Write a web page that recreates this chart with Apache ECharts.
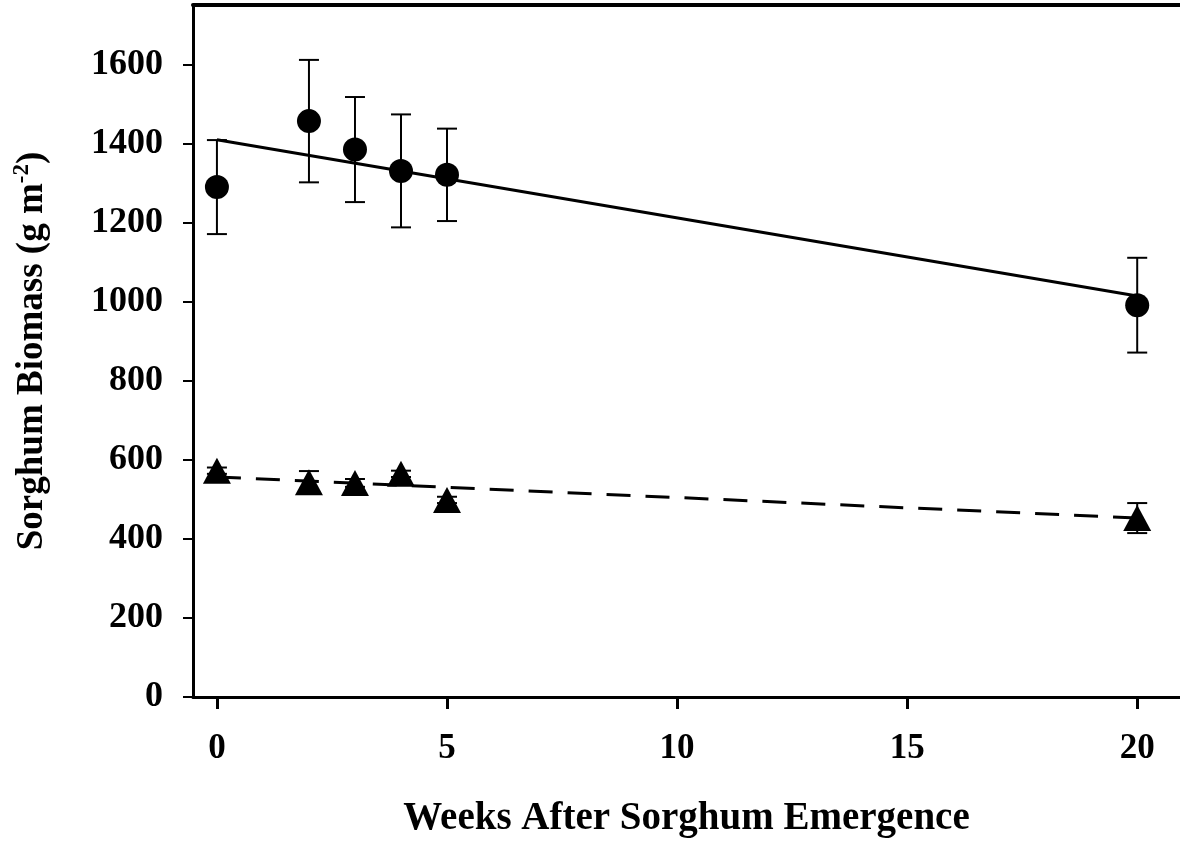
<!DOCTYPE html>
<html>
<head>
<meta charset="utf-8">
<script src="https://cdn.jsdelivr.net/npm/echarts@6/dist/echarts.min.js"></script>
<style>html,body{margin:0;padding:0;background:#fff}#c{width:1180px;height:842px}</style>
</head>
<body>
<div id="c"></div>
<script>
// ---- data ----
const weeks = [0, 2, 3, 4, 5, 20];
const biomassFull = [1291, 1458, 1386, 1332, 1322, 992];
const errFull = [119, 155, 133, 143, 117, 120];
const biomassLow = [573, 544, 542, 565, 499, 453];
const errLow = [8, 28, 10, 8, 8, 38];
const fitFullX = [0, 20];
const fitFullY = [1411, 1015];
const fitLowX = [0, 20];
const fitLowY = [557, 453];
const xTicks = [0, 5, 10, 15, 20];
const yTicks = [0, 200, 400, 600, 800, 1000, 1200, 1400, 1600];

const FONT = '"Liberation Serif", "Times New Roman", serif';
const pts = (xs, ys) => xs.map((x, i) => [x, ys[i]]);
const errData = (xs, ys, es) => xs.map((x, i) => [x, ys[i] - es[i], ys[i] + es[i]]);

function errRender(params, api) {
  const x = api.value(0);
  const lo = api.coord([x, api.value(1)]);
  const hi = api.coord([x, api.value(2)]);
  const cw = 10;
  const st = { stroke: '#000', lineWidth: 2 };
  return {
    type: 'group',
    children: [
      { type: 'line', shape: { x1: lo[0], y1: lo[1], x2: hi[0], y2: hi[1] }, style: st },
      { type: 'line', shape: { x1: lo[0] - cw, y1: lo[1], x2: lo[0] + cw, y2: lo[1] }, style: st },
      { type: 'line', shape: { x1: hi[0] - cw, y1: hi[1], x2: hi[0] + cw, y2: hi[1] }, style: st }
    ]
  };
}

const chart = echarts.init(document.getElementById('c'));
const XMIN = -0.52, XMAX = 20.93, YMAX = 1752;
const plain = v => String(v);
chart.setOption({
  animation: false,
  backgroundColor: '#fff',
  grid: { left: 193, top: 5, right: 0, bottom: 145, containLabel: false, outerBoundsMode: 'none' },
  xAxis: [{
    type: 'value', min: XMIN, max: XMAX, position: 'bottom',
    name: 'Weeks After Sorghum Emergence', nameLocation: 'middle', nameGap: 102,
    nameTextStyle: { fontFamily: FONT, fontWeight: 'bold', fontSize: 39, color: '#000' },
    axisLine: { onZero: false, lineStyle: { color: '#000', width: 3 } },
    axisTick: { show: true, length: 12, inside: false, customValues: xTicks, lineStyle: { color: '#000', width: 3 } },
    axisLabel: { customValues: xTicks, formatter: plain, margin: 34, fontFamily: FONT, fontWeight: 'bold', fontSize: 35, color: '#000' },
    splitLine: { show: false }
  }, {
    type: 'value', min: XMIN, max: XMAX, position: 'top',
    axisLine: { onZero: false, lineStyle: { color: '#000', width: 4 } },
    axisTick: { show: false }, axisLabel: { show: false }, splitLine: { show: false }
  }],
  yAxis: {
    type: 'value', min: 0, max: YMAX,
    name: 'Sorghum Biomass (g m{sup|-2})', nameLocation: 'middle', nameGap: 139, nameRotate: 90,
    nameTextStyle: {
      fontFamily: FONT, fontWeight: 'bold', fontSize: 37, color: '#000',
      rich: { sup: { fontFamily: FONT, fontWeight: 'bold', fontSize: 23, color: '#000', padding: [0, 0, 20, 0] } }
    },
    axisLine: { onZero: false, lineStyle: { color: '#000', width: 3 } },
    axisTick: { show: true, length: 10, customValues: yTicks, lineStyle: { color: '#000', width: 2 } },
    axisLabel: { customValues: yTicks, formatter: plain, margin: 30, fontFamily: FONT, fontWeight: 'bold', fontSize: 36, color: '#000' },
    splitLine: { show: false }
  },
  series: [
    {
      type: 'line', data: pts(fitFullX, fitFullY), symbol: 'none', silent: true,
      lineStyle: { color: '#000', width: 3, type: 'solid' }
    },
    {
      type: 'line', data: pts(fitLowX, fitLowY), symbol: 'none', silent: true,
      lineStyle: { color: '#000', width: 3, type: [24, 15] }
    },
    { type: 'custom', renderItem: errRender, data: errData(weeks, biomassFull, errFull), z: 3 },
    { type: 'custom', renderItem: errRender, data: errData(weeks, biomassLow, errLow), z: 3 },
    {
      type: 'scatter', data: pts(weeks, biomassFull), symbol: 'circle', symbolSize: 24, z: 4,
      itemStyle: { color: '#000', opacity: 1 }
    },
    {
      type: 'scatter', data: pts(weeks, biomassLow), symbol: 'triangle', symbolSize: [28, 26], z: 4,
      itemStyle: { color: '#000', opacity: 1 }
    }
  ]
});
</script>
</body>
</html>
